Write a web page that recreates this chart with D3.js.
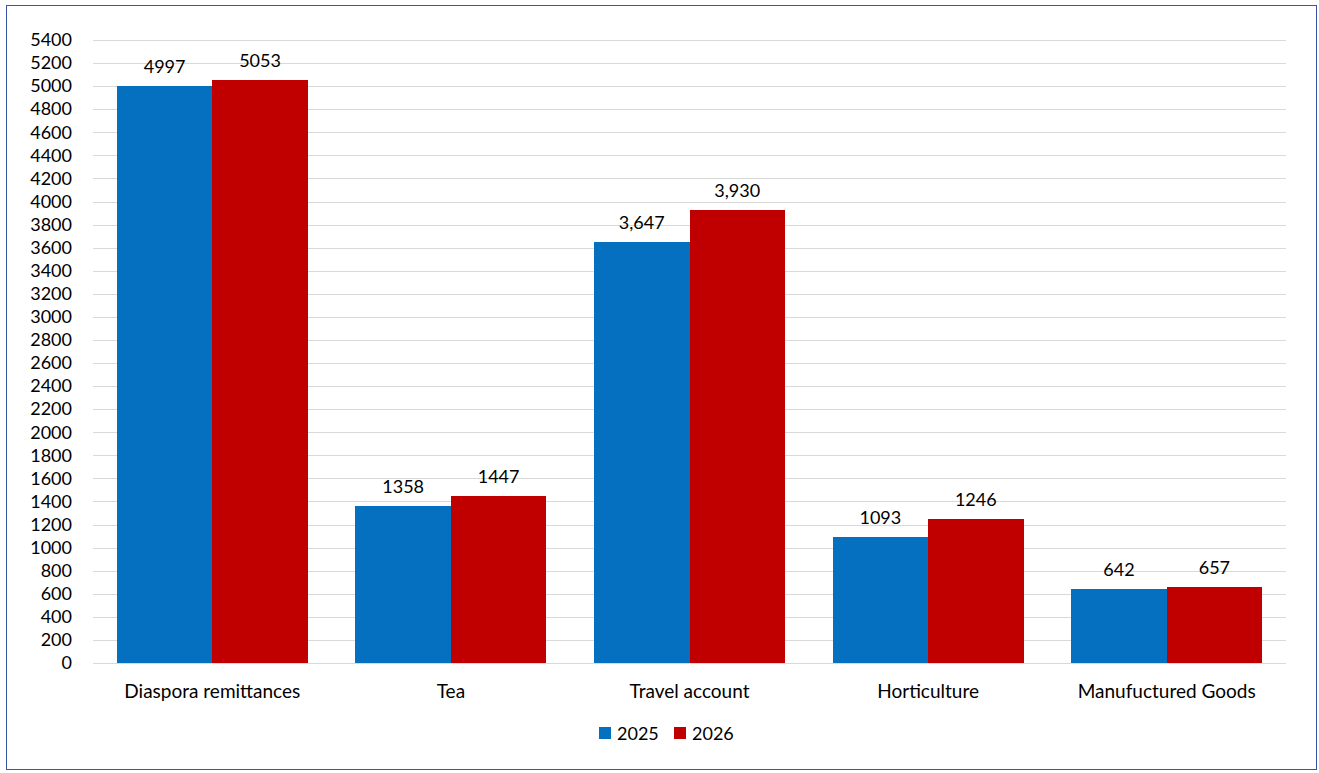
<!DOCTYPE html>
<html><head><meta charset="utf-8">
<script src="https://cdn.jsdelivr.net/npm/d3@7"></script>
<style>body{margin:0;background:#fff}svg{display:block}text{font-family:Lato,"Noto Sans",sans-serif;fill:#000}</style>
</head><body><svg id="c" width="1319" height="773"></svg>
<script>
const categories = ["Diaspora remittances","Tea","Travel account","Horticulture","Manufuctured Goods"];
const series = ["2025","2026"];
const values2025 = [4997,1358,3647,1093,642];
const values2026 = [5053,1447,3930,1246,657];
const labels2025 = ["4997","1358","3,647","1093","642"];
const labels2026 = ["5053","1447","3,930","1246","657"];
const yTicks = d3.range(0,5401,200);
const colors = ["#0570C0","#C00000"];

const svg = d3.select("#c");
svg.append("rect").attr("x",6.5).attr("y",5.5).attr("width",1310).attr("height",764)
  .attr("fill","#fff").attr("stroke","#3b54a3").attr("stroke-width",1);

const m = {l:93, r:1286, t:40, b:663};
const x = d3.scaleBand().domain(categories).range([m.l,m.r]).paddingInner(0.2).paddingOuter(0.1);
const x1 = d3.scaleBand().domain(series).range([0,x.bandwidth()]);
const y = d3.scaleLinear().domain([0,5400]).range([m.b,m.t]);

const grid = svg.append("g");
grid.selectAll("line").data(yTicks).join("line")
  .attr("x1",m.l).attr("x2",m.r).attr("y1",d=>Math.round(y(d))+0.5).attr("y2",d=>Math.round(y(d))+0.5)
  .attr("stroke","#d9d9d9").attr("stroke-width",1);

const yAxis = svg.append("g").attr("transform",`translate(${m.l},0)`)
  .call(d3.axisLeft(y).tickValues(yTicks).tickSize(0).tickPadding(21).tickFormat(d3.format("d")));
yAxis.select(".domain").remove();
yAxis.selectAll("text").style("font-size","18px").attr("font-family","Lato,'Noto Sans',sans-serif");

const rows = categories.map((c,i)=>({c, vals:[values2025[i],values2026[i]], labs:[labels2025[i],labels2026[i]]}));
const g = svg.append("g").selectAll("g").data(rows).join("g").attr("transform",d=>`translate(${x(d.c)},0)`);
g.selectAll("rect").data(d=>d.vals.map((v,j)=>({s:series[j],v,j}))).join("rect")
  .attr("x",d=>x1(d.s)).attr("width",x1.bandwidth()).attr("y",d=>y(d.v)).attr("height",d=>y(0)-y(d.v))
  .attr("fill",d=>colors[d.j]).attr("shape-rendering","crispEdges");
g.selectAll("text.lab").data(d=>d.vals.map((v,j)=>({s:series[j],v,l:d.labs[j]}))).join("text").attr("class","lab")
  .attr("x",d=>x1(d.s)+x1.bandwidth()/2).attr("y",d=>y(d.v)-13).attr("text-anchor","middle")
  .style("font-size","18px").text(d=>d.l);

svg.append("line").attr("x1",m.l).attr("x2",m.r).attr("y1",m.b+0.5).attr("y2",m.b+0.5).attr("stroke","#d9d9d9");

const xAxis = svg.append("g").attr("transform",`translate(0,${m.b})`)
  .call(d3.axisBottom(x).tickSize(0).tickPadding(22));
xAxis.select(".domain").remove();
xAxis.selectAll("text").style("font-size","19px").attr("font-family","Lato,'Noto Sans',sans-serif");

const leg = svg.append("g");
const legX = [599,674];
series.forEach((s,i)=>{
  leg.append("rect").attr("x",legX[i]).attr("y",727).attr("width",12).attr("height",12).attr("fill",colors[i]);
  leg.append("text").attr("x",legX[i]+18).attr("y",740).style("font-size","18px").text(s);
});
</script></body></html>
